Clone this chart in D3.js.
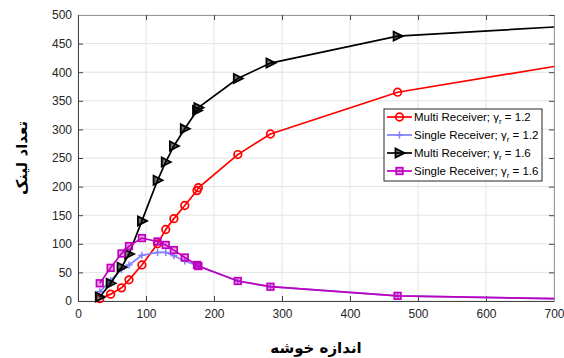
<!DOCTYPE html>
<html>
<head>
<meta charset="utf-8">
<script src="https://cdn.jsdelivr.net/npm/d3@7"></script>
<style>
body { margin: 0; background: #fff; }
text { font-family: "Liberation Sans", Arial, sans-serif; }
</style>
</head>
<body>
<script>
// cluster size (x) and number of links for each curve
var clusterSize = [32, 48, 64, 75, 94, 117, 129, 141, 157, 175, 177, 235, 283, 470, 700];
var multi12  = [4, 12, 23, 37, 63, 100, 125, 144, 167, 193, 198, 256, 292, 365, 410];
var single12 = [16, 36, 55, 63, 80, 85, 85, 79, 70, 62, 61, 35, 25, 9, 4];
var multi16  = [7, 31, 59, 82, 140, 211, 243, 271, 301, 333, 338, 389, 416, 463, 479];
var single16 = [31, 58, 83, 96, 110, 104, 98, 89, 76, 63, 61, 35, 25, 9, 4];
var xTicks = [0, 100, 200, 300, 400, 500, 600, 700];
var yTicks = [0, 50, 100, 150, 200, 250, 300, 350, 400, 450, 500];

var series = [
	{name: "Multi Receiver; ", g: "1.2", vals: multi12, color: "#ff0000", mark: "circle"},
	{name: "Single Receiver; ", g: "1.2", vals: single12, color: "#8080ff", mark: "plus"},
	{name: "Multi Receiver; ", g: "1.6", vals: multi16, color: "#000000", mark: "tri"},
	{name: "Single Receiver; ", g: "1.6", vals: single16, color: "#bf00bf", mark: "square"}
];

var W = 564, H = 358;
var pLeft = 78, pRight = 554, pTop = 15, pBottom = 301;

var svg = d3.select("body").append("svg")
	.attr("width", W)
	.attr("height", H);

var x = d3.scaleLinear().domain([0, 700]).range([pLeft, pRight]);
var y = d3.scaleLinear().domain([0, 500]).range([pBottom, pTop]);

// grid
svg.append("g").selectAll("line").data(xTicks).enter().append("line")
	.attr("x1", function(d) { return x(d); }).attr("x2", function(d) { return x(d); })
	.attr("y1", pTop).attr("y2", pBottom)
	.attr("stroke", "#e3e3e3").attr("stroke-width", 1);
svg.append("g").selectAll("line").data(yTicks).enter().append("line")
	.attr("y1", function(d) { return y(d); }).attr("y2", function(d) { return y(d); })
	.attr("x1", pLeft).attr("x2", pRight)
	.attr("stroke", "#e3e3e3").attr("stroke-width", 1);

// axes
var xAxis = svg.append("g").attr("transform", "translate(0," + pBottom + ")")
	.call(d3.axisBottom(x).tickValues(xTicks).tickSizeInner(-5).tickSizeOuter(0).tickPadding(8));
var yAxis = svg.append("g").attr("transform", "translate(" + pLeft + ",0)")
	.call(d3.axisLeft(y).tickValues(yTicks).tickSizeInner(-5).tickSizeOuter(0).tickPadding(6));
var xTop = svg.append("g").attr("transform", "translate(0," + pTop + ")")
	.call(d3.axisTop(x).tickValues(xTicks).tickSizeInner(-5).tickSizeOuter(0).tickFormat(""));
var yRight = svg.append("g").attr("transform", "translate(" + pRight + ",0)")
	.call(d3.axisRight(y).tickValues(yTicks).tickSizeInner(-5).tickSizeOuter(0).tickFormat(""));

[xAxis, yAxis, xTop, yRight].forEach(function(a) {
	a.select(".domain").attr("stroke", "#444");
	a.selectAll(".tick line").attr("stroke", "#444");
	a.selectAll("text").attr("font-size", 12).attr("fill", "#262626")
		.style("font-family", "'Liberation Sans', Arial, sans-serif");
});
xTop.select(".domain").attr("stroke", "#999");
yRight.select(".domain").attr("stroke", "#999");

var line = d3.line()
	.x(function(d) { return x(d[0]); })
	.y(function(d) { return y(d[1]); });

function drawMarker(g, type, color, cx, cy) {
	if (type == "circle") {
		g.append("circle").attr("cx", cx).attr("cy", cy).attr("r", 3.8)
			.attr("fill", "none").attr("stroke", color).attr("stroke-width", 1.7);
	} else if (type == "plus") {
		g.append("path").attr("d", "M" + (cx - 3.5) + "," + cy + "H" + (cx + 3.5) + "M" + cx + "," + (cy - 3.5) + "V" + (cy + 3.5))
			.attr("stroke", color).attr("stroke-width", 1.5);
	} else if (type == "tri") {
		g.append("path").attr("d", "M" + (cx + 5) + "," + cy + "L" + (cx - 4) + "," + (cy - 4.5) + "L" + (cx - 4) + "," + (cy + 4.5) + "Z")
			.attr("fill", "#000").attr("fill-opacity", 0.55).attr("stroke", color).attr("stroke-width", 1.8);
	} else {
		g.append("rect").attr("x", cx - 3.3).attr("y", cy - 3.3).attr("width", 6.6).attr("height", 6.6)
			.attr("fill", color).attr("fill-opacity", 0.35).attr("stroke", color).attr("stroke-width", 1.7);
	}
}

series.forEach(function(s) {
	var pts = clusterSize.map(function(c, i) { return [c, s.vals[i]]; });
	var g = svg.append("g");
	g.append("path").datum(pts)
		.attr("d", line)
		.attr("fill", "none")
		.attr("stroke", s.color)
		.attr("stroke-width", 1.7);
	// the last point sits on the right edge, where the reference shows no marker
	pts.slice(0, -1).forEach(function(p) {
		drawMarker(g, s.mark, s.color, x(p[0]), y(p[1]));
	});
});

// legend
var lg = svg.append("g");
lg.append("rect").attr("x", 384).attr("y", 109).attr("width", 158).attr("height", 72)
	.attr("fill", "#fff").attr("stroke", "#262626").attr("stroke-width", 1);
series.forEach(function(s, i) {
	var ly = 117 + i * 18;
	lg.append("line").attr("x1", 387).attr("x2", 412).attr("y1", ly).attr("y2", ly)
		.attr("stroke", s.color).attr("stroke-width", 1.7);
	drawMarker(lg, s.mark, s.color, 399.5, ly);
	var t = lg.append("text").attr("x", 414).attr("y", ly + 4)
		.attr("font-size", 11.5).attr("fill", "#000");
	t.append("tspan").text(s.name + "\u03B3");
	t.append("tspan").attr("font-size", 8).attr("dy", 3).text("r");
	t.append("tspan").attr("dy", -3).text(" = " + s.g);
});

// axis titles
svg.append("text")
	.attr("x", 316).attr("y", 353)
	.attr("text-anchor", "middle")
	.attr("font-size", 15).attr("font-weight", "bold")
	.style("font-family", "'DejaVu Sans', sans-serif")
	.text("اندازه خوشه");

svg.append("text")
	.attr("transform", "translate(27,158) rotate(-90)")
	.attr("text-anchor", "middle")
	.attr("font-size", 15).attr("font-weight", "bold")
	.style("font-family", "'DejaVu Sans', sans-serif")
	.text("تعداد لینک");
</script>
</body>
</html>
